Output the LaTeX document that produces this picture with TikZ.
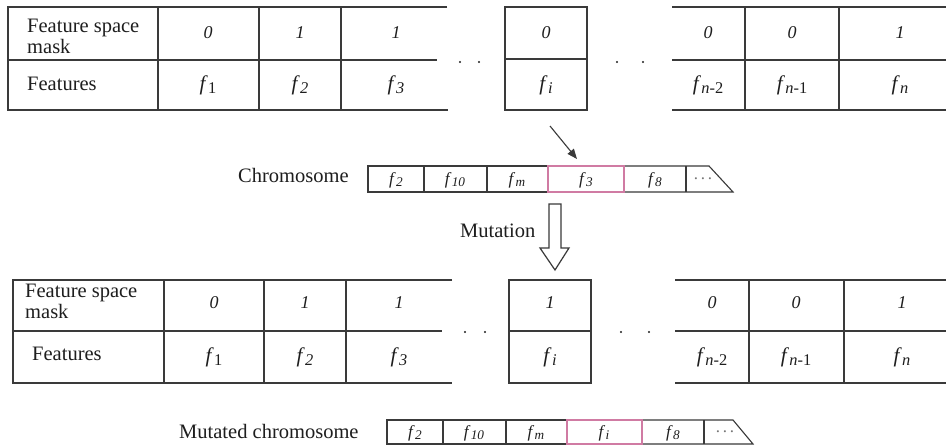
\documentclass[tikz,border=0pt]{standalone}
\usepackage{fontspec}
\setmainfont{Liberation Serif}
\usetikzlibrary{arrows.meta}
\definecolor{rule}{HTML}{3A3A3A}
\definecolor{ink}{HTML}{1E1E1E}
\definecolor{gene}{HTML}{D07BA3}

% feature symbol with a lowered, slightly reduced subscript
\newcommand\fv[1]{\textit{f}\kern0.3pt\raisebox{-0.32ex}{\scalebox{0.78}{#1}}}

\begin{document}
\begin{tikzpicture}[x=1pt,y=-1pt,
  grid/.style={draw=rule,line width=1.3pt},
  chrom/.style={draw=rule,line width=1.1pt},
  picked/.style={draw=gene,line width=1.1pt},
  lbl/.style={text=ink,font=\fontsize{20.5}{21}\selectfont,anchor=base west,inner sep=0},
  bit/.style={text=ink,font=\fontsize{18}{20}\selectfont\itshape,inner sep=0},
  feat/.style={text=ink,font=\fontsize{21}{23}\selectfont,inner sep=0},
  gen/.style={text=ink,font=\fontsize{17}{19}\selectfont,inner sep=0},
  dot/.style={circle,fill=ink,inner sep=0,minimum size=2.4pt},
]
\useasboundingbox (0,0) rectangle (946,447);
\fill[white] (0,0) rectangle (946,447);

% ---------- original feature space ----------
\draw[grid] (447,7) -- (8,7) -- (8,110) -- (448,110);
\draw[grid] (8,60) -- (437,60);
\foreach \x in {158,259,341} \draw[grid] (\x,7) -- (\x,110);
\draw[grid] (505,7) rectangle (587,110);
\draw[grid] (505,59) -- (587,59);
\draw[grid] (946,7) -- (672,7);
\draw[grid] (946,60) -- (672,60);
\draw[grid] (946,110) -- (672,110);
\foreach \x in {745,839} \draw[grid] (\x,7) -- (\x,110);

\node[lbl] (aMask1) at (27,32) {Feature space};
\node[lbl] (aMask2) at (27,53) {mask};
\node[lbl] (aFeat) at (27,90) {Features};
\node[bit] (aB1) at (208,33) {0};
\node[bit] (aB2) at (300,33) {1};
\node[bit] (aB3) at (396,33) {1};
\node[bit] (aBi) at (546,33) {0};
\node[bit] (aBn2) at (708,33) {0};
\node[bit] (aBn1) at (792,33) {0};
\node[bit] (aBn) at (900,33) {1};
\node[feat] (aF1) at (208,85) {\fv{1}};
\node[feat] (aF2) at (300,85) {\fv{\textit{2}}};
\node[feat] (aF3) at (396,85) {\fv{\textit{3}}};
\node[feat] (aFi) at (546,85) {\fv{\textit{i}}};
\node[feat] (aFn2) at (708,85) {\fv{\textit{n}-2}};
\node[feat] (aFn1) at (792,85) {\fv{\textit{n}-1}};
\node[feat] (aFn) at (900,85) {\fv{\textit{n}}};
\node[dot] (aD1) at (460,62) {};
\node[dot] (aD2) at (479,62) {};
\node[dot] (aD3) at (617,62) {};
\node[dot] (aD4) at (643,62) {};

% ---------- chromosome ----------
\node[lbl] (chromLbl) at (238,182) {Chromosome};
\draw[chrom] (548,166) -- (368,166) -- (368,192) -- (548,192);
\foreach \x in {424,487} \draw[chrom] (\x,166) -- (\x,192);
\draw[chrom] (624,166) -- (709,166) -- (733,192) -- (624,192);
\draw[chrom] (686,166) -- (686,192);
\draw[picked] (548,166) rectangle (624,192);
\node[gen] (cG1) at (396,180) {\fv{\textit{2}}};
\node[gen] (cG2) at (455,180) {\fv{\textit{10}}};
\node[gen] (cG3) at (517,180) {\fv{\textit{m}}};
\node[gen] (cG4) at (586,180) {\fv{\textit{3}}};
\node[gen] (cG5) at (655,180) {\fv{\textit{8}}};
\node[gen,text=rule!70] (cMore) at (703,179) {.\,.\,.};

\coordinate (ptrFrom) at (550,126);
\coordinate (ptrTo) at (577,159);
\draw[rule,line width=1.1pt,-{Triangle[length=10pt,width=8pt]}] (ptrFrom) -- (ptrTo);

% ---------- mutation step ----------
\node[lbl] (mutLbl) at (460,237) {Mutation};
\draw[rule,line width=1.2pt,fill=white,line join=miter]
  (549,204) -- (561,204) -- (561,248) -- (569,248) -- (555,270) -- (540,248) -- (549,248) -- cycle;

% ---------- mutated feature space ----------
\draw[grid] (452,280) -- (13,280) -- (13,383) -- (452,383);
\draw[grid] (13,331) -- (442,331);
\foreach \x in {164,264,346} \draw[grid] (\x,280) -- (\x,383);
\draw[grid] (509,280) rectangle (591,383);
\draw[grid] (509,331) -- (591,331);
\draw[grid] (946,280) -- (675,280);
\draw[grid] (946,331) -- (675,331);
\draw[grid] (946,383) -- (675,383);
\foreach \x in {749,844} \draw[grid] (\x,280) -- (\x,383);

\node[lbl] (bMask1) at (25,297) {Feature space};
\node[lbl] (bMask2) at (25,318) {mask};
\node[lbl] (bFeat) at (32,360) {Features};
\node[bit] (bB1) at (214,303) {0};
\node[bit] (bB2) at (305,303) {1};
\node[bit] (bB3) at (399,303) {1};
\node[bit] (bBi) at (550,303) {1};
\node[bit] (bBn2) at (712,303) {0};
\node[bit] (bBn1) at (796,303) {0};
\node[bit] (bBn) at (902,303) {1};
\node[feat] (bF1) at (214,357) {\fv{1}};
\node[feat] (bF2) at (305,357) {\fv{\textit{2}}};
\node[feat] (bF3) at (399,357) {\fv{\textit{3}}};
\node[feat] (bFi) at (550,357) {\fv{\textit{i}}};
\node[feat] (bFn2) at (712,357) {\fv{\textit{n}-2}};
\node[feat] (bFn1) at (796,357) {\fv{\textit{n}-1}};
\node[feat] (bFn) at (902,357) {\fv{\textit{n}}};
\node[dot] (bD1) at (465,332) {};
\node[dot] (bD2) at (485,332) {};
\node[dot] (bD3) at (621,332) {};
\node[dot] (bD4) at (649,332) {};

% ---------- mutated chromosome ----------
\node[lbl] (mchromLbl) at (179,438) {Mutated chromosome};
\draw[chrom] (567,420) -- (387,420) -- (387,444) -- (567,444);
\foreach \x in {443,506} \draw[chrom] (\x,420) -- (\x,444);
\draw[chrom] (642,420) -- (733,420) -- (753,444) -- (642,444);
\draw[chrom] (704,420) -- (704,444);
\draw[picked] (567,420) rectangle (642,444);
\node[gen] (mG1) at (415,433) {\fv{\textit{2}}};
\node[gen] (mG2) at (474,433) {\fv{\textit{10}}};
\node[gen] (mG3) at (536,433) {\fv{\textit{m}}};
\node[gen] (mG4) at (604,433) {\fv{\textit{i}}};
\node[gen] (mG5) at (673,433) {\fv{\textit{8}}};
\node[gen,text=rule!70] (mMore) at (725,432) {.\,.\,.};
\end{tikzpicture}
\end{document}
